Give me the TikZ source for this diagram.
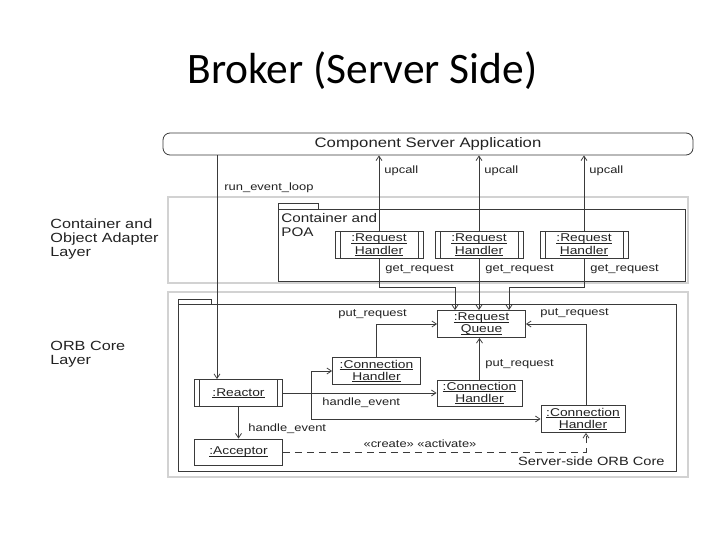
\documentclass[tikz,border=0pt]{standalone}
\usepackage{fontspec}
\usetikzlibrary{arrows.meta}
\newfontfamily\dg[FakeStretch=1.22]{Liberation Sans}
\newfontfamily\ttl{Carlito}
\definecolor{ln}{HTML}{3A3A3A}
\definecolor{tx}{HTML}{222222}
\definecolor{bandc}{HTML}{D2D2D2}
\newcommand\ulx[1]{\setbox0\hbox{#1}\rlap{\rule[-1.7pt]{\wd0}{0.55pt}}\box0}
\begin{document}
\begin{tikzpicture}[x=1pt,y=-1pt,
  line width=0.8pt,
  arr/.style={draw=ln,-{Straight Barb[length=4.5pt,width=6pt]}},
  obj/.style={draw=ln, fill=white, minimum width=88pt, minimum height=27pt, inner sep=0pt,
    align=center, text=tx, font=\dg\fontsize{11.3}{12.2}\selectfont},
  lab/.style={text=tx, font=\dg\fontsize{10.6}{12}\selectfont, inner sep=0pt, anchor=west},
  layer/.style={text=tx, font=\dg\fontsize{13.3}{14}\selectfont, inner sep=0pt, anchor=west, align=left},
  frame/.style={draw=ln},
  bandframe/.style={draw=bandc, line width=1.3pt}
]
\path[use as bounding box, fill=white] (0,0) rectangle (728,546);

% title
\node[anchor=base west, inner sep=0pt, font=\ttl\fontsize{43.5}{50}\selectfont] (title) at (187,83) {Broker (Server Side)};

% layer bands and frames
\draw[bandframe] (168,197) rectangle (688,283);
\draw[bandframe] (168,292) rectangle (688,477);
\draw[frame] (278,209) rectangle (685,281);
\draw[frame] (278,203) rectangle (318,209);
\draw[frame] (178,304) rectangle (676,471);
\draw[frame] (178,299) rectangle (211,304);

% layer labels
\node[layer] (l1) at (50,239) {Container and\\Object Adapter\\Layer};
\node[layer] (l2) at (50,354.5) {ORB Core\\Layer};
\node[text=tx, font=\dg\fontsize{12.5}{14}\selectfont, inner sep=0pt, anchor=west, align=left] (poa) at (281,225) {Container and\\POA};
\node[text=tx, font=\dg\fontsize{12}{13}\selectfont, inner sep=0pt, anchor=east] (orbname) at (665,461.5) {Server-side ORB Core};

% top application
\node[draw=ln, rounded corners=7pt, minimum width=530pt, minimum height=22pt, inner sep=0pt,
  text=tx, font=\dg\fontsize{13.7}{15}\selectfont] (csa) at (428,144) {Component Server Application};

% objects
\node[obj] (rh1) at (379,245) {\ulx{:Request}\\\ulx{Handler}};
\node[obj] (rh2) at (479,245) {\ulx{:Request}\\\ulx{Handler}};
\node[obj] (rh3) at (584,245) {\ulx{:Request}\\\ulx{Handler}};
\node[obj] (rq) at (481.5,324) {\ulx{:Request}\\\ulx{Queue}};
\node[obj] (ch1) at (376.5,371) {\ulx{:Connection}\\\ulx{Handler}};
\node[obj, minimum width=85pt, minimum height=26pt] (ch2) at (479.5,393) {\ulx{:Connection}\\\ulx{Handler}};
\node[obj, minimum width=84pt] (ch3) at (583,419) {\ulx{:Connection}\\\ulx{Handler}};
\node[obj] (reactor) at (238.5,393) {\ulx{:Reactor}};
\node[obj, minimum height=26pt] (acceptor) at (238.5,452) {\ulx{:Acceptor}};

% active-object bars
\foreach \n in {rh1,rh2,rh3,reactor}{
  \draw[ln] ([xshift=5.5pt]\n.north west) -- ([xshift=5.5pt]\n.south west);
  \draw[ln] ([xshift=-5.5pt]\n.north east) -- ([xshift=-5.5pt]\n.south east);
}

% helper coordinates
\coordinate (run) at (217,0);
\coordinate (g1) at (455,287);
\coordinate (g3) at (509,287);
\coordinate (fx) at (311,0);

% connectors
\draw[arr] (csa.south -| run) -- (reactor.north -| run);
\foreach \n in {rh1,rh2,rh3}{
  \draw[arr] (\n.north) -- (\n.north |- csa.south);
}
\draw[arr] (rh1.south) |- (g1) -- (g1 |- rq.north);
\draw[arr] (rh2.south) -- (rh2.south |- rq.north);
\draw[arr] (rh3.south) |- (g3) -- (g3 |- rq.north);
\draw[arr] (ch1.north) |- (rq.west);
\draw[arr] (ch2.north) -- (ch2.north |- rq.south);
\draw[arr] ([xshift=3pt]ch3.north) |- (rq.east);
\draw[arr] (reactor.east) -- (ch2.west);
\draw[arr] (fx |- ch3.west) -- (ch3.west);
\draw[arr] (fx |- ch3.west) -- (fx |- ch1.west) -- (ch1.west);
\draw[arr] (reactor.south) -- (acceptor.north);
\draw[arr, dash pattern=on 7.5pt off 4.5pt] (acceptor.east) -| ([xshift=3pt]ch3.south);

% labels
\node[lab] (lrun) at (224,188) {run\_event\_loop};
\node[lab] (u1) at (384,171) {upcall};
\node[lab] (u2) at (484,171) {upcall};
\node[lab] (u3) at (589,171) {upcall};
\node[lab] (gr1) at (385,269) {get\_request};
\node[lab] (gr2) at (485,269) {get\_request};
\node[lab] (gr3) at (590,269) {get\_request};
\node[lab] (pr1) at (338,314) {put\_request};
\node[lab] (pr2) at (485,364) {put\_request};
\node[lab] (pr3) at (540,313) {put\_request};
\node[lab] (he1) at (322,403) {handle\_event};
\node[lab] (he2) at (248,429) {handle\_event};
\node[lab, anchor=center] (cra) at (420,444) {«create» «activate»};
\end{tikzpicture}
\end{document}
